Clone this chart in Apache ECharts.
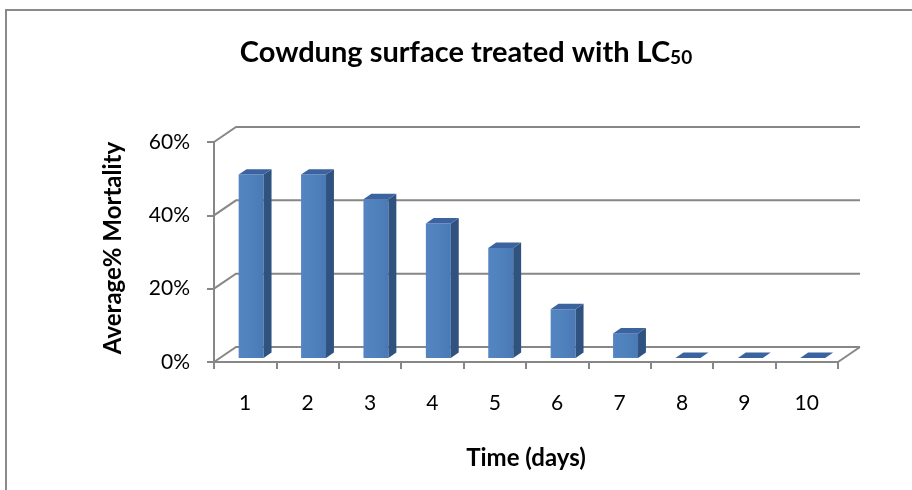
<!DOCTYPE html>
<html>
<head>
<meta charset="utf-8">
<script src="https://cdn.jsdelivr.net/npm/echarts@6/dist/echarts.min.js"></script>
<style>
  html, body { margin: 0; padding: 0; background: #fff; }
  #chart { width: 912px; height: 490px; }
</style>
</head>
<body>
<div id="chart"></div>
<script>
// Average mortality per day on cow-dung surface treated with the LC50 dose
const days = ['1', '2', '3', '4', '5', '6', '7', '8', '9', '10'];
const mortality = [50, 50, 43.3, 36.7, 30, 13.3, 6.7, 0, 0, 0];
const yTicks = [0, 20, 40, 60];

const FONT = 'Lato';
const AXIS_GREY = '#878787';

// Pseudo-3D depth of the plot box (back wall offset) and bar placement in depth
const DX = 22, DY = -15;
const BAR_Z0 = 0.27;      // fraction of depth where bar front face sits
const BAR_DEPTH = 0.36;   // fraction of depth covered by a bar
const BAR_W = 0.40;       // fraction of category band

const chart = echarts.init(document.getElementById('chart'), null, { renderer: 'canvas' });

function frameItem(params, api) {
  const cs = params.coordSys;
  const x0 = cs.x, x1 = cs.x + cs.width;
  const children = [];
  const lineStyle = { stroke: AXIS_GREY, lineWidth: 2, fill: null };
  yTicks.forEach(v => {
    const y = api.coord([0, v])[1];
    children.push({
      type: 'polyline',
      shape: { points: [[x0, y], [x0 + DX, y + DY], [x1 + DX, y + DY]] },
      style: lineStyle
    });
    if (v === 0) {
      children.push({
        type: 'line',
        shape: { x1: x1, y1: y, x2: x1 + DX, y2: y + DY },
        style: lineStyle
      });
    }
  });
  return { type: 'group', children: children };
}

function barItem(params, api) {
  const idx = api.value(0);
  const val = api.value(1);
  const band = api.size([1, 0])[0];
  const base = api.coord([idx, 0]);
  const top = api.coord([idx, val]);
  const ox = BAR_Z0 * DX, oy = BAR_Z0 * DY;
  const ddx = BAR_DEPTH * DX, ddy = BAR_DEPTH * DY;
  const w = band * BAR_W;
  const xl = base[0] - w / 2 + ox, xr = xl + w;
  const yb = base[1] + oy, yt = top[1] + oy;
  const children = [];
  if (yb - yt > 0.5) {
    children.push({
      type: 'rect',
      shape: { x: xl, y: yt, width: w, height: yb - yt },
      style: {
        fill: new echarts.graphic.LinearGradient(0, 0, 1, 0, [
          { offset: 0, color: '#5485C2' },
          { offset: 0.5, color: '#4F81BD' },
          { offset: 1, color: '#4A7AB5' }
        ])
      }
    });
    children.push({
      type: 'polygon',
      shape: { points: [[xr, yt], [xr + ddx, yt + ddy], [xr + ddx, yb + ddy], [xr, yb]] },
      style: { fill: '#30527F' }
    });
  }
  children.push({
    type: 'polygon',
    shape: { points: [[xl, yt], [xr, yt], [xr + ddx, yt + ddy], [xl + ddx, yt + ddy]] },
    style: { fill: '#3A63A0' }
  });
  return { type: 'group', children: children };
}

const option = {
  backgroundColor: '#fff',
  animation: false,
  textStyle: { fontFamily: FONT },
  graphic: [
    {
      type: 'rect',
      shape: { x: 6, y: 10, width: 1000, height: 1000 },
      style: { fill: null, stroke: '#8a8a8a', lineWidth: 2 },
      silent: true
    },
    {
      type: 'text',
      x: 466,
      y: 53,
      style: {
        text: '{a|Cowdung surface treated with LC}{b|50}',
        align: 'center',
        verticalAlign: 'middle',
        rich: {
          a: { fontFamily: FONT, fontSize: 29, fontWeight: 'bold', fill: '#000' },
          b: { fontFamily: FONT, fontSize: 19, fontWeight: 'bold', fill: '#000', verticalAlign: 'bottom' }
        }
      },
      silent: true
    }
  ],
  grid: { left: 214, right: 74, top: 142, bottom: 128 },
  xAxis: {
    type: 'category',
    data: days,
    boundaryGap: true,
    name: 'Time (days)',
    nameLocation: 'middle',
    nameGap: 84,
    nameTextStyle: { fontFamily: FONT, fontSize: 24, fontWeight: 'bold', color: '#000' },
    axisLine: { lineStyle: { color: AXIS_GREY, width: 2 } },
    axisTick: { show: true, length: 7, lineStyle: { color: AXIS_GREY, width: 2 } },
    axisLabel: { margin: 31, fontFamily: FONT, fontSize: 21, color: '#000' },
    splitLine: { show: false }
  },
  yAxis: {
    type: 'value',
    min: 0,
    max: 60,
    interval: 20,
    name: 'Average% Mortality',
    nameLocation: 'middle',
    nameGap: 89,
    nameRotate: 90,
    nameTextStyle: { fontFamily: FONT, fontSize: 24, fontWeight: 'bold', color: '#000', padding: [0, 0, 0, 8] },
    axisLine: { show: true, lineStyle: { color: AXIS_GREY, width: 2 } },
    axisTick: { show: true, length: 7, lineStyle: { color: AXIS_GREY, width: 2 } },
    axisLabel: { formatter: '{value}%', margin: 24, fontFamily: FONT, fontSize: 21, color: '#000' },
    splitLine: { show: false }
  },
  series: [
    {
      type: 'custom',
      name: 'frame',
      renderItem: frameItem,
      data: [[0, 0]],
      z: 1,
      silent: true
    },
    {
      type: 'custom',
      name: 'Average% Mortality',
      renderItem: barItem,
      encode: { x: 0, y: 1 },
      data: mortality.map((v, i) => [i, v]),
      z: 3
    }
  ]
};

chart.setOption(option);
</script>
</body>
</html>
